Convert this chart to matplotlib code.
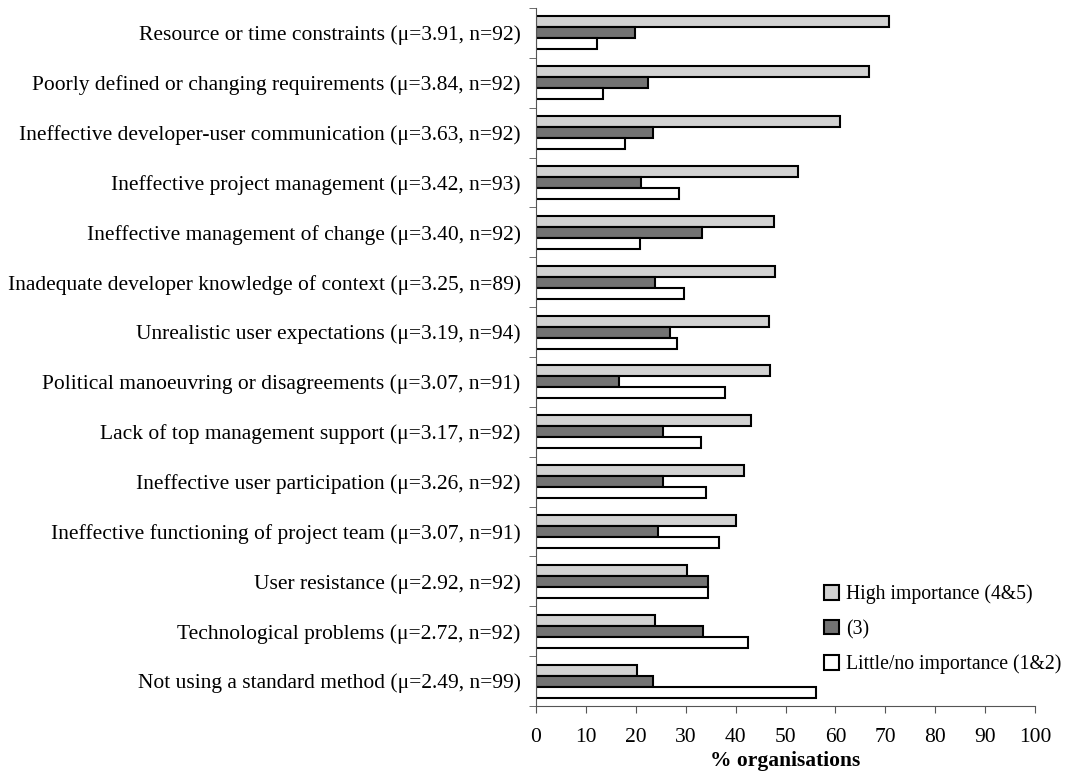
import matplotlib.pyplot as plt
import numpy as np

CATEGORIES = [
    'Resource or time constraints (\u03bc=3.91, n=92)',
    'Poorly defined or changing requirements (\u03bc=3.84, n=92)',
    'Ineffective developer-user communication (\u03bc=3.63, n=92)',
    'Ineffective project management (\u03bc=3.42, n=93)',
    'Ineffective management of change (\u03bc=3.40, n=92)',
    'Inadequate developer knowledge of context (\u03bc=3.25, n=89)',
    'Unrealistic user expectations (\u03bc=3.19, n=94)',
    'Political manoeuvring or disagreements (\u03bc=3.07, n=91)',
    'Lack of top management support (\u03bc=3.17, n=92)',
    'Ineffective user participation (\u03bc=3.26, n=92)',
    'Ineffective functioning of project team (\u03bc=3.07, n=91)',
    'User resistance (\u03bc=2.92, n=92)',
    'Technological problems (\u03bc=2.72, n=92)',
    'Not using a standard method (\u03bc=2.49, n=99)',
]

HIGH = [70.7, 66.7, 61.0, 52.6, 47.6, 47.9, 46.6, 46.8, 43.1, 41.7, 40.1, 30.3, 23.8, 20.2]
MID = [19.8, 22.4, 23.4, 21.0, 33.3, 23.9, 26.9, 16.6, 25.5, 25.5, 24.5, 34.5, 33.5, 23.4]
LOW = [12.2, 13.5, 17.8, 28.7, 20.9, 29.7, 28.2, 37.9, 33.1, 34.1, 36.7, 34.5, 42.4, 56.1]

LEGEND = ['High importance (4&5)', '(3)', 'Little/no importance (1&2)']
XTICKS = list(range(0, 101, 10))

plt.rcParams['font.family'] = ['Liberation Serif', 'DejaVu Serif']

fig = plt.figure(figsize=(10.69, 7.77), dpi=100)
ax = fig.add_axes([536 / 1069, 1 - 706 / 777, (1035 - 536) / 1069, (706 - 8) / 777])

n = len(CATEGORIES)
y = np.arange(n)
h = 0.22
ax.barh(y - h, HIGH, h, color='#d2d2d2', edgecolor='black', linewidth=1.5, label=LEGEND[0])
ax.barh(y, MID, h, color='#737373', edgecolor='black', linewidth=1.5, label=LEGEND[1])
ax.barh(y + h, LOW, h, color='white', edgecolor='black', linewidth=1.5, label=LEGEND[2])

ax.set_ylim(n - 0.5, -0.5)
ax.set_xlim(0, 100)
ax.set_yticks(y)
ax.set_yticklabels(CATEGORIES, fontsize=15.5)
ax.set_yticks(np.arange(-0.5, n, 1), minor=True)
ax.tick_params(axis='y', which='major', length=0, pad=11)
ax.tick_params(axis='y', which='minor', length=5, color='#555555')
ax.set_xticks(XTICKS)
ax.tick_params(axis='x', labelsize=15.5, length=5, color='#555555', pad=11)

ax.spines['top'].set_visible(False)
ax.spines['right'].set_visible(False)
ax.spines['left'].set_color('#555555')
ax.spines['bottom'].set_color('#555555')

ax.set_xlabel('% organisations', fontsize=15.5, fontweight='bold', labelpad=3)

leg = fig.legend(loc='upper left', bbox_to_anchor=(806 / 1069, 1 - 567 / 777),
                 frameon=False, fontsize=14.2, handlelength=0.75, handleheight=0.75,
                 handletextpad=0.4, labelspacing=0.78)

fig.savefig('out.png')
